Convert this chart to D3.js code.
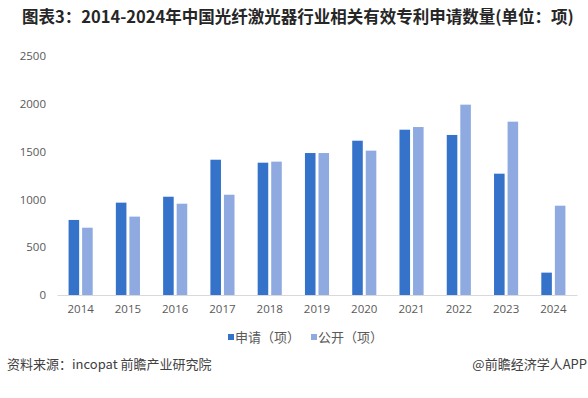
<!DOCTYPE html>
<meta charset="utf-8">
<head>
<style>
  body { margin: 0; background: #fff; }
  svg text { font-family: "Noto Sans CJK SC", "Noto Sans", sans-serif; }
  .axis text { font-family: "Open Sans", "Noto Sans", sans-serif; font-size: 11.5px; fill: #595959; }
</style>
</head>
<body>
<script src="https://cdnjs.cloudflare.com/ajax/libs/d3/7.8.5/d3.min.js"></script>
<script>

// data
const years = ["2014", "2015", "2016", "2017", "2018", "2019", "2020", "2021", "2022", "2023", "2024"];
const applied = [785, 966, 1028, 1415, 1384, 1485, 1614, 1729, 1674, 1269, 234];
const published = [704, 820, 955, 1049, 1395, 1485, 1510, 1757, 1991, 1813, 934];
const seriesNames = ["申请（项）", "公开（项）"];
const yTicks = [0, 500, 1000, 1500, 2000, 2500];

const colors = ["#3473c9", "#8eaae0"];

const W = 588, H = 398;
const plot = {left: 57, right: 577, top: 56, bottom: 295};

const svg = d3.select("body").append("svg")
  .attr("width", W)
  .attr("height", H);

// title
svg.append("text")
  .attr("x", 22)
  .attr("y", 23)
  .style("font-size", "16.5px")
  .style("font-weight", "bold")
  .style("fill", "#262626")
  .text("图表3：2014-2024年中国光纤激光器行业相关有效专利申请数量(单位：项)");

const x = d3.scaleBand()
  .domain(years)
  .range([plot.left, plot.right])
  .paddingInner(0.49)
  .paddingOuter(0.245);

const xs = d3.scaleBand()
  .domain([0, 1])
  .range([0, x.bandwidth()])
  .paddingInner(0.22);

const y = d3.scaleLinear()
  .domain([0, 2500])
  .range([plot.bottom, plot.top]);

// y axis labels (no line)
const yAxis = svg.append("g")
  .attr("class", "axis")
  .attr("transform", `translate(${plot.left},0)`)
  .call(d3.axisLeft(y).tickValues(yTicks).tickFormat(d3.format("d")).tickSize(0).tickPadding(11));
yAxis.select(".domain").remove();

// x axis
const xAxis = svg.append("g")
  .attr("class", "axis")
  .attr("transform", `translate(0,${plot.bottom})`)
  .call(d3.axisBottom(x).tickSize(0).tickPadding(10));
xAxis.select(".domain")
  .attr("stroke", "#d9d9d9")
  .attr("stroke-width", 1);

const rows = years.map((yr, i) => ({year: yr, vals: [applied[i], published[i]]}));

const groups = svg.append("g")
  .selectAll("g")
  .data(rows)
  .join("g")
    .attr("transform", d => `translate(${x(d.year)},0)`);

groups.selectAll("rect")
  .data(d => d.vals.map((v, k) => ({k, v})))
  .join("rect")
    .attr("x", d => xs(d.k))
    .attr("width", xs.bandwidth())
    .attr("y", d => y(d.v))
    .attr("height", d => y(0) - y(d.v))
    .attr("fill", d => colors[d.k]);

// legend
const legend = svg.append("g")
  .attr("transform", "translate(228,337)");
const legX = [0, 83];
seriesNames.forEach((name, k) => {
  legend.append("rect")
    .attr("x", legX[k])
    .attr("y", -3)
    .attr("width", 6)
    .attr("height", 6)
    .attr("fill", colors[k]);
  legend.append("text")
    .attr("x", legX[k] + 7)
    .attr("y", 4.5)
    .style("font-size", "13px")
    .style("fill", "#595959")
    .text(name);
});

// footer
svg.append("text")
  .attr("x", 7)
  .attr("y", 369)
  .style("font-size", "13px")
  .style("fill", "#404040")
  .text("资料来源：incopat 前瞻产业研究院");

svg.append("text")
  .attr("x", 587)
  .attr("y", 369)
  .attr("text-anchor", "end")
  .style("font-size", "13px")
  .style("fill", "#404040")
  .text("@前瞻经济学人APP");

</script>
</body>
